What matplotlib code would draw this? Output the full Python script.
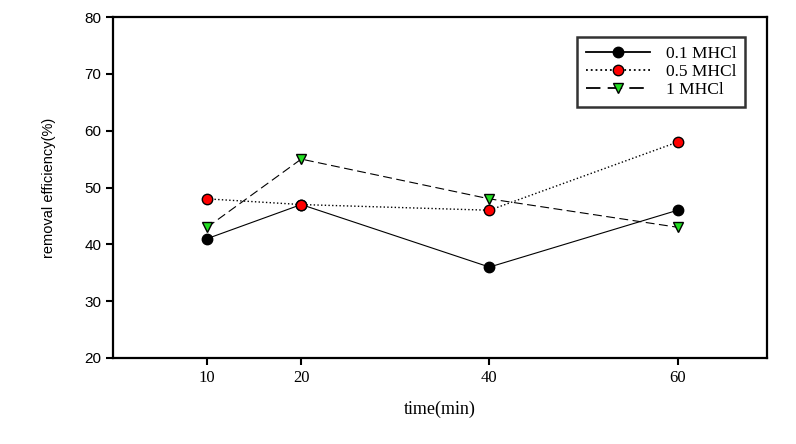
import matplotlib.pyplot as plt

# data
time_min = [10, 20, 40, 60]
hcl_01 = [41, 47, 36, 46]
hcl_05 = [48, 47, 46, 58]
hcl_1 = [43, 55, 48, 43]
series_labels = ['0.1 MHCl', '0.5 MHCl', '1 MHCl']

fig = plt.figure(figsize=(7.96, 4.44), dpi=100)
ax = fig.add_axes([0.142, 0.1937, 0.8216, 0.768])

ax.plot(time_min, hcl_01, color='black', lw=0.8, ls='-', marker='o',
        ms=7.5, mfc='black', mec='black', label=series_labels[0])
ax.plot(time_min, hcl_05, color='black', lw=1.0, ls=':', marker='o',
        ms=7.5, mfc='red', mec='black', label=series_labels[1])
ax.plot(time_min, hcl_1, color='black', lw=0.8, ls=(0, (8, 4)), marker='v',
        ms=7.5, mfc='#22dd22', mec='black', label=series_labels[2])

ax.set_xlim(0, 69.5)
ax.set_ylim(20, 80)
ax.set_xticks(time_min)
ax.set_yticks(range(20, 81, 10))
ax.tick_params(axis='both', direction='out', length=5, width=1.5)
for lbl in ax.get_xticklabels():
    lbl.set_fontfamily('Liberation Serif')
    lbl.set_fontsize(12)
for lbl in ax.get_yticklabels():
    lbl.set_fontfamily('Liberation Sans')
    lbl.set_fontsize(11)
for sp in ax.spines.values():
    sp.set_linewidth(1.6)

ax.set_xlabel('time(min)', family='Liberation Serif', fontsize=13, labelpad=11)
ax.set_ylabel('removal efficiency(%)', family='Liberation Sans', fontsize=10.5, labelpad=20)

leg = ax.legend(loc='upper right', bbox_to_anchor=(0.9664, 0.9413), borderaxespad=0,
                frameon=True, fancybox=False, edgecolor='black',
                handlelength=3.7, handletextpad=0.9,
                prop={'family': 'Liberation Serif', 'size': 12.5},
                borderpad=0.5, labelspacing=0.12)
leg.get_frame().set_linewidth(1.8)
for line in leg.get_lines():
    line.set_linewidth(1.3)

fig.savefig('out.png', dpi=100)
